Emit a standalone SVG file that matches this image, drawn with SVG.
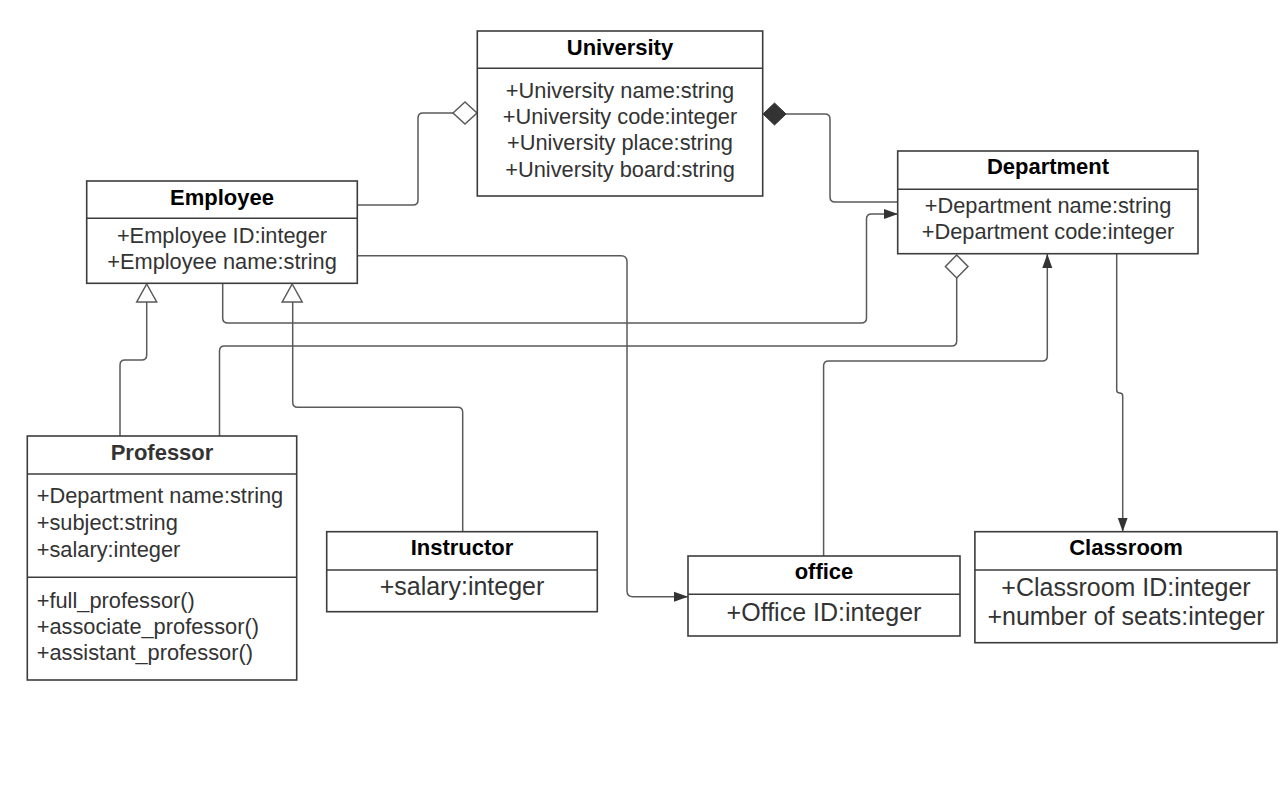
<svg xmlns="http://www.w3.org/2000/svg" width="1282" height="793" viewBox="0 0 1282 793">
  <style>
    .box { fill: #ffffff; stroke: #3c3c3c; stroke-width: 1.6; }
    .div { stroke: #3c3c3c; stroke-width: 1.6; }
    .title { font-family: "Liberation Sans", Arial, sans-serif; font-weight: bold; font-size: 22px; fill: #000; text-anchor: middle; }
    .attr { font-family: "Liberation Sans", Arial, sans-serif; font-size: 21.8px; fill: #333; text-anchor: middle; }
    .attrL { font-family: "Liberation Sans", Arial, sans-serif; font-size: 21.8px; fill: #333; }
    .big { font-size: 25px; }
    .conn { fill: none; stroke: #5a5a5a; stroke-width: 1.5; }
    .hollow { fill: #ffffff; stroke: #5a5a5a; stroke-width: 1.5; }
    .solid { fill: #333333; stroke: #333333; stroke-width: 1; }
  </style>
  <defs>
    <marker id="arrow" markerUnits="userSpaceOnUse" markerWidth="16" markerHeight="12" refX="14" refY="6" orient="auto">
      <path d="M0,1 L14,6 L0,11 Z" fill="#333333"/>
    </marker>
  </defs>

  <rect width="1282" height="793" fill="#ffffff"/>

  <g id="connectors">
    <!-- Employee to University (aggregation) -->
    <path class="conn" d="M357,205 H413 Q418,205 418,200 V118 Q418,113 423,113 H453"/>
    <polygon class="hollow" points="453,113 465,102 477,113 465,124"/>
    <!-- University to Department (composition) -->
    <path class="conn" d="M786,114 H825 Q830,114 830,119 V197 Q830,202 835,202 H898"/>
    <polygon class="solid" points="763,114 774.5,103 786,114 774.5,125"/>
    <!-- Employee to Department (association) -->
    <path class="conn" marker-end="url(#arrow)" d="M222.7,284 V318 Q222.7,323 228,323 H861 Q866.5,323 866.5,318 V219 Q866.5,214 871.5,214 H898"/>
    <!-- Professor to Department (aggregation) -->
    <path class="conn" d="M219.5,436 V351 Q219.5,346 224.5,346 H951.5 Q956.7,346 956.7,341 V278"/>
    <polygon class="hollow" points="956.7,255 968,266.5 956.7,278 945.4,266.5"/>
    <!-- office to Department -->
    <path class="conn" marker-end="url(#arrow)" d="M823.6,556 V366 Q823.6,361 828.6,361 H1042.3 Q1047.3,361 1047.3,356 V254"/>
    <!-- Department to Classroom -->
    <path class="conn" marker-end="url(#arrow)" d="M1116.7,254 V390 Q1116.7,393 1119.7,393 Q1122.7,393 1122.7,396 V531.7"/>
    <!-- Employee to office -->
    <path class="conn" marker-end="url(#arrow)" d="M357,255.7 H621 Q627,255.7 627,261.7 V590.7 Q627,596.7 633,596.7 H688"/>
    <!-- Professor generalization to Employee -->
    <path class="conn" d="M120,436 V365 Q120,360 125,360 H141.7 Q146.7,360 146.7,355 V302"/>
    <polygon class="hollow" points="146.7,284 156.7,302 136.7,302"/>
    <!-- Instructor generalization to Employee -->
    <path class="conn" d="M462.7,531.7 V412.3 Q462.7,407.3 457.7,407.3 H297.7 Q292.7,407.3 292.7,402.3 V302"/>
    <polygon class="hollow" points="292.2,284 302.2,302 282.2,302"/>
  </g>

  <g id="university">
    <rect class="box" x="477.3" y="31" width="285.4" height="165"/>
    <line class="div" x1="477.3" y1="68.3" x2="762.7" y2="68.3"/>
    <text class="title" x="620" y="54.5">University</text>
    <text class="attr" x="620" y="97.7">+University name:string</text>
    <text class="attr" x="620" y="124">+University code:integer</text>
    <text class="attr" x="620" y="150.3">+University place:string</text>
    <text class="attr" x="620" y="176.6">+University board:string</text>
  </g>

  <g id="employee">
    <rect class="box" x="86.7" y="181" width="270.6" height="102.3"/>
    <line class="div" x1="86.7" y1="218.3" x2="357.3" y2="218.3"/>
    <text class="title" x="222" y="205">Employee</text>
    <text class="attr" x="222" y="243.3">+Employee ID:integer</text>
    <text class="attr" x="222" y="269">+Employee name:string</text>
  </g>

  <g id="department">
    <rect class="box" x="897.7" y="151" width="300.3" height="102.7"/>
    <line class="div" x1="897.7" y1="189.3" x2="1198" y2="189.3"/>
    <text class="title" x="1048" y="174.3">Department</text>
    <text class="attr" x="1048" y="213.3">+Department name:string</text>
    <text class="attr" x="1048" y="239">+Department code:integer</text>
  </g>

  <g id="professor">
    <rect class="box" x="27.3" y="436" width="269.4" height="244"/>
    <line class="div" x1="27.3" y1="474" x2="296.7" y2="474"/>
    <line class="div" x1="27.3" y1="577.3" x2="296.7" y2="577.3"/>
    <text class="title" x="162" y="460" style="fill:#333">Professor</text>
    <text class="attrL" x="36.7" y="503.3">+Department name:string</text>
    <text class="attrL" x="36.7" y="530">+subject:string</text>
    <text class="attrL" x="36.7" y="556.5">+salary:integer</text>
    <text class="attrL" x="36.7" y="608.3">+full_professor()</text>
    <text class="attrL" x="36.7" y="634.3">+associate_professor()</text>
    <text class="attrL" x="36.7" y="660">+assistant_professor()</text>
  </g>

  <g id="instructor">
    <rect class="box" x="326.7" y="531.7" width="270.6" height="80"/>
    <line class="div" x1="326.7" y1="570" x2="597.3" y2="570"/>
    <text class="title" x="462" y="555">Instructor</text>
    <text class="attr big" x="462" y="595">+salary:integer</text>
  </g>

  <g id="office">
    <rect class="box" x="688" y="556" width="272" height="80"/>
    <line class="div" x1="688" y1="594.3" x2="960" y2="594.3"/>
    <text class="title" x="824" y="579.3">office</text>
    <text class="attr big" x="824" y="620.7">+Office ID:integer</text>
  </g>

  <g id="classroom">
    <rect class="box" x="974.9" y="531.7" width="302.1" height="111"/>
    <line class="div" x1="974.9" y1="570" x2="1277" y2="570"/>
    <text class="title" x="1126" y="555">Classroom</text>
    <text class="attr big" x="1126" y="596">+Classroom ID:integer</text>
    <text class="attr big" x="1126" y="625">+number of seats:integer</text>
  </g>
</svg>
